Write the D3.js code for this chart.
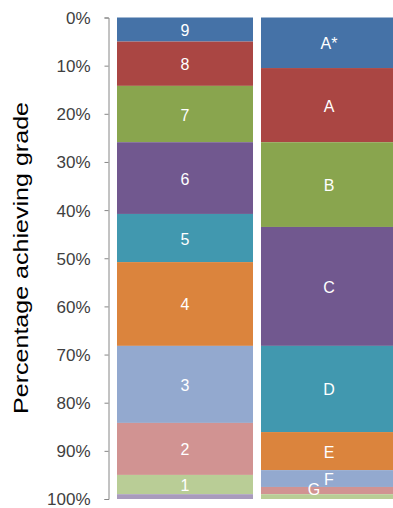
<!DOCTYPE html>
<html>
<head>
<meta charset="utf-8">
<script src="https://cdn.jsdelivr.net/npm/d3@7"></script>
<style>
  html, body { margin: 0; padding: 0; background: #fff; }
  svg { display: block; font-family: "Liberation Sans", Arial, sans-serif; }
</style>
</head>
<body>
<div id="container"></div>
<script>
"use strict";

const columns = ["9-1", "A*-G"];

const grades91 = ["9", "8", "7", "6", "5", "4", "3", "2", "1", "U"];
const values91 = [5.0, 9.2, 11.7, 14.9, 10.0, 17.4, 16.0, 10.8, 4.0, 1.0];

const gradesAG = ["A*", "A", "B", "C", "D", "E", "F", "G", "U"];
const valuesAG = [10.5, 15.4, 17.6, 24.7, 17.9, 7.9, 3.5, 1.5, 1.0];

const yTicks = [0, 10, 20, 30, 40, 50, 60, 70, 80, 90, 100];

const colors = [
  "#4572a7", "#aa4643", "#89a54e", "#71588f", "#4198af",
  "#db843d", "#93a9cf", "#d19392", "#b9cd96", "#a99bbd"
];

const width = 393;
const height = 508;

const svg = d3.select("#container")
  .append("svg")
  .attr("width", width)
  .attr("height", height);

const x = d3.scaleBand()
  .domain(columns)
  .range([117, 397])
  .paddingInner(0.0556)
  .paddingOuter(0);

const y = d3.scaleLinear()
  .domain([0, 100])
  .range([17.5, 499]);

function stackUp(grades, values, column) {
  let acc = 0;
  return grades.map((g, i) => {
    const d = { column, grade: g, index: i, y0: acc, y1: acc + values[i] };
    acc += values[i];
    return d;
  });
}

const segs = [
  ...stackUp(grades91, values91, columns[0]),
  ...stackUp(gradesAG, valuesAG, columns[1])
];

svg.append("g")
  .selectAll("rect")
  .data(segs)
  .enter()
  .append("rect")
  .attr("x", d => x(d.column))
  .attr("y", d => y(d.y0))
  .attr("width", x.bandwidth())
  .attr("height", d => y(d.y1) - y(d.y0))
  .attr("fill", d => colors[d.index]);

// grade labels, U is left unlabelled; G nudged left like the original
svg.append("g")
  .selectAll("text")
  .data(segs.filter(d => d.grade !== "U"))
  .enter()
  .append("text")
  .attr("x", d => x(d.column) + x.bandwidth() / 2 + (d.grade === "G" ? -15 : 0))
  .attr("y", d => (y(d.y0) + y(d.y1)) / 2 + 1 + (d.grade === "G" ? -2 : 0))
  .attr("text-anchor", "middle")
  .attr("dominant-baseline", "central")
  .attr("fill", "#fff")
  .style("font-size", "16px")
  .text(d => d.grade);

const yAxis = d3.axisLeft(y)
  .tickValues(yTicks)
  .tickSize(4)
  .tickSizeOuter(4)
  .tickPadding(14)
  .tickFormat(d => d + "%");

const axisG = svg.append("g")
  .attr("transform", "translate(108.5,0)")
  .call(yAxis);

axisG.select(".domain").attr("stroke", "#868686");
axisG.selectAll(".tick line").attr("stroke", "#868686");
axisG.selectAll(".tick text")
  .attr("fill", "#404040")
  .style("font-size", "17px")
  .attr("dy", "0.35em");

svg.append("text")
  .attr("transform", "translate(28,258) rotate(-90)")
  .attr("text-anchor", "middle")
  .attr("fill", "#000")
  .attr("textLength", 312)
  .attr("lengthAdjust", "spacingAndGlyphs")
  .style("font-size", "21px")
  .text("Percentage achieving grade");
</script>
</body>
</html>
